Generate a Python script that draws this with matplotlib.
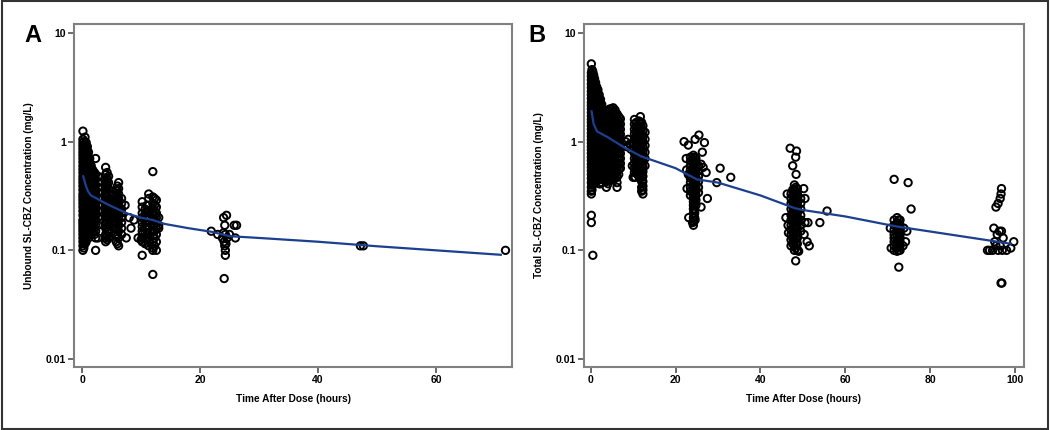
import matplotlib.pyplot as plt
from matplotlib.patches import Rectangle
from matplotlib.ticker import FixedLocator, NullLocator

plt.rcParams["font.family"] = ["Liberation Sans", "DejaVu Sans"]

# Panel A: unbound SL-CBZ, columns of (time, concentrations)
unbound_columns = [
    (0.15, [1.25, 1.05, 0.98, 0.92, 0.86, 0.8, 0.75, 0.7, 0.65, 0.6, 0.56, 0.52, 0.48, 0.45, 0.42,
            0.39, 0.36, 0.33, 0.31, 0.29, 0.27, 0.25, 0.23, 0.21, 0.19, 0.18, 0.17, 0.16, 0.15,
            0.14, 0.13, 0.12, 0.11, 0.1]),
    (0.3, [1.0, 0.93, 0.87, 0.82, 0.77, 0.72, 0.67, 0.62, 0.58, 0.54, 0.5, 0.465, 0.435, 0.405,
           0.375, 0.345, 0.32, 0.3, 0.28, 0.26, 0.24, 0.22, 0.2, 0.185, 0.175, 0.165, 0.155, 0.145,
           0.135, 0.125, 0.115, 0.105]),
    (0.5, [1.1, 0.95, 0.88, 0.8, 0.73, 0.67, 0.61, 0.56, 0.51, 0.47, 0.43, 0.4, 0.37, 0.34, 0.31,
           0.28, 0.26, 0.24, 0.22, 0.2, 0.185, 0.17, 0.155, 0.14, 0.13, 0.115]),
    (0.7, [0.98, 0.9, 0.84, 0.77, 0.7, 0.64, 0.59, 0.54, 0.49, 0.45, 0.415, 0.385, 0.355, 0.325,
           0.295, 0.27, 0.25, 0.23, 0.21, 0.19, 0.175, 0.16, 0.145, 0.13, 0.12]),
    (0.9, [0.9, 0.82, 0.75, 0.68, 0.62, 0.57, 0.52, 0.48, 0.44, 0.4, 0.37, 0.34, 0.31, 0.28, 0.26,
           0.24, 0.22, 0.2, 0.18, 0.165, 0.15, 0.135]),
    (1.1, [0.8, 0.72, 0.65, 0.59, 0.54, 0.5, 0.46, 0.42, 0.39, 0.36, 0.33, 0.3, 0.275, 0.255, 0.235,
           0.215, 0.195, 0.175, 0.16, 0.145, 0.13]),
    (1.3, [0.7, 0.62, 0.56, 0.5, 0.46, 0.42, 0.38, 0.35, 0.32, 0.29, 0.27, 0.25, 0.23, 0.21, 0.19,
           0.17, 0.155, 0.14]),
    (1.55, [0.6, 0.53, 0.48, 0.44, 0.4, 0.36, 0.33, 0.3, 0.28, 0.26, 0.24, 0.22, 0.2, 0.18, 0.165,
            0.15]),
    (1.8, [0.55, 0.5, 0.45, 0.41, 0.37, 0.34, 0.31, 0.28, 0.26, 0.24, 0.22, 0.2, 0.18, 0.16, 0.145]),
    (2.1, [0.52, 0.47, 0.42, 0.38, 0.345, 0.315, 0.285, 0.26, 0.24, 0.22, 0.2, 0.18, 0.16, 0.14]),
    (2.3, [0.7, 0.5, 0.45, 0.4, 0.36, 0.33, 0.3, 0.27, 0.25, 0.23, 0.21, 0.19, 0.17, 0.15, 0.13, 0.1]),
    (2.7, [0.48, 0.42, 0.38, 0.34, 0.3, 0.26, 0.23, 0.2, 0.17, 0.13]),
    (4.0, [0.58, 0.5, 0.45, 0.41, 0.37, 0.34, 0.31, 0.28, 0.26, 0.24, 0.22, 0.2, 0.18, 0.16, 0.14,
           0.13, 0.12]),
    (4.25, [0.52, 0.46, 0.42, 0.38, 0.345, 0.315, 0.29, 0.265, 0.245, 0.225, 0.205, 0.185, 0.165,
            0.15, 0.135, 0.125]),
    (4.5, [0.48, 0.42, 0.37, 0.33, 0.3, 0.27, 0.25, 0.23, 0.21, 0.19, 0.17, 0.15, 0.13]),
    (5.2, [0.32, 0.28, 0.25, 0.22, 0.2, 0.18, 0.16]),
    (5.8, [0.36, 0.32, 0.29, 0.26, 0.24, 0.22, 0.2, 0.18, 0.16, 0.14, 0.12]),
    (6.0, [0.39, 0.35, 0.31, 0.28, 0.255, 0.235, 0.215, 0.195, 0.175, 0.155, 0.135, 0.115]),
    (6.2, [0.42, 0.37, 0.33, 0.3, 0.27, 0.25, 0.23, 0.21, 0.19, 0.17, 0.15, 0.13, 0.11]),
    (6.7, [0.3, 0.27, 0.24, 0.22, 0.2, 0.18, 0.16, 0.14]),
    (10.2, [0.28, 0.25, 0.22, 0.2, 0.18, 0.165, 0.15, 0.14, 0.13, 0.12, 0.09]),
    (10.7, [0.24, 0.22, 0.2, 0.18, 0.16, 0.145, 0.13, 0.115]),
    (11.0, [0.26, 0.23, 0.21, 0.19, 0.17, 0.155, 0.14, 0.125]),
    (11.3, [0.33, 0.3, 0.26, 0.23, 0.2, 0.18, 0.16, 0.14, 0.12, 0.11]),
    (12.0, [0.53, 0.31, 0.27, 0.24, 0.21, 0.19, 0.17, 0.15, 0.135, 0.12, 0.105, 0.1, 0.06]),
    (12.3, [0.3, 0.26, 0.23, 0.21, 0.19, 0.17, 0.15, 0.13, 0.11]),
    (12.6, [0.29, 0.25, 0.22, 0.2, 0.18, 0.16, 0.14, 0.12, 0.1]),
    (13.0, [0.2, 0.17, 0.16]),
]
unbound_extra_t = [7.3, 7.5, 8.0, 8.3, 8.8, 9.5, 10.0,
                   21.9, 23.0, 24.0, 24.5, 24.2, 23.8, 24.1, 24.2, 24.3, 24.3, 24.1, 24.3, 24.6,
                   25.8, 26.2, 26.0, 24.4, 24.0, 25.0, 47.2, 47.7, 71.8]
unbound_extra_c = [0.26, 0.13, 0.2, 0.16, 0.19, 0.13, 0.125,
                   0.15, 0.14, 0.2, 0.21, 0.17, 0.13, 0.12, 0.11, 0.1, 0.09, 0.055, 0.14, 0.13,
                   0.17, 0.17, 0.13, 0.115, 0.145, 0.14, 0.11, 0.11, 0.1]
unbound_pred_t = [0.2, 0.6, 1.0, 1.5, 2.5, 4, 6, 8, 10, 12, 14, 18, 22, 25, 30, 40, 50, 60, 71]
unbound_pred_c = [0.48, 0.4, 0.35, 0.32, 0.3, 0.27, 0.24, 0.215, 0.2, 0.19, 0.175, 0.16, 0.148,
                  0.135, 0.13, 0.12, 0.109, 0.1, 0.091]

# Panel B: total SL-CBZ
total_columns = [
    (0.15, [5.2, 4.3, 4.0, 3.7, 3.4, 3.15, 2.9, 2.7, 2.5, 2.3, 2.15, 2.0, 1.85, 1.72, 1.6, 1.5, 1.4,
            1.3, 1.2, 1.12, 1.04, 0.97, 0.9, 0.84, 0.78, 0.72, 0.67, 0.62, 0.58, 0.54, 0.5, 0.46,
            0.42, 0.38, 0.35, 0.33, 0.21, 0.18]),
    (0.3, [4.6, 4.15, 3.85, 3.55, 3.25, 3.0, 2.8, 2.6, 2.4, 2.22, 2.07, 1.92, 1.78, 1.66, 1.55, 1.45,
           1.35, 1.25, 1.16, 1.08, 1.0, 0.93, 0.87, 0.81, 0.75, 0.69, 0.64, 0.6, 0.56, 0.52, 0.48,
           0.44, 0.4, 0.36]),
    (0.5, [4.4, 4.0, 3.6, 3.3, 3.0, 2.75, 2.5, 2.3, 2.1, 1.95, 1.8, 1.65, 1.52, 1.4, 1.3, 1.2, 1.1,
           1.02, 0.94, 0.87, 0.8, 0.74, 0.68, 0.62, 0.57, 0.52, 0.48, 0.44, 0.4, 0.09]),
    (0.7, [4.1, 3.75, 3.4, 3.1, 2.85, 2.6, 2.4, 2.2, 2.02, 1.87, 1.72, 1.58, 1.46, 1.35, 1.25, 1.15,
           1.06, 0.98, 0.9, 0.83, 0.77, 0.71, 0.65, 0.6, 0.55, 0.5, 0.46, 0.42]),
    (0.9, [3.8, 3.4, 3.1, 2.8, 2.55, 2.3, 2.1, 1.92, 1.76, 1.62, 1.48, 1.36, 1.25, 1.15, 1.06, 0.97,
           0.89, 0.82, 0.75, 0.69, 0.63, 0.58, 0.53, 0.48, 0.44]),
    (1.15, [3.5, 3.2, 2.9, 2.65, 2.4, 2.2, 2.0, 1.84, 1.69, 1.55, 1.42, 1.3, 1.2, 1.1, 1.01, 0.93,
            0.85, 0.78, 0.72, 0.66, 0.6, 0.55, 0.5, 0.45]),
    (1.4, [3.2, 2.9, 2.6, 2.35, 2.15, 1.95, 1.78, 1.62, 1.48, 1.35, 1.24, 1.13, 1.04, 0.95, 0.87,
           0.8, 0.73, 0.67, 0.61, 0.56, 0.51, 0.46]),
    (1.7, [3.0, 2.7, 2.45, 2.25, 2.05, 1.87, 1.7, 1.55, 1.42, 1.3, 1.19, 1.09, 1.0, 0.91, 0.84, 0.77,
           0.7, 0.64, 0.58, 0.53, 0.48, 0.44]),
    (2.0, [2.7, 2.4, 2.2, 2.0, 1.82, 1.66, 1.52, 1.39, 1.27, 1.16, 1.06, 0.97, 0.89, 0.81, 0.74,
           0.68, 0.62, 0.56, 0.5, 0.45, 0.41]),
    (2.3, [2.45, 2.2, 2.0, 1.82, 1.66, 1.51, 1.38, 1.26, 1.15, 1.05, 0.96, 0.88, 0.8, 0.73, 0.67,
           0.61, 0.55, 0.5, 0.45, 0.41]),
    (2.6, [2.2, 2.0, 1.8, 1.63, 1.48, 1.35, 1.23, 1.12, 1.02, 0.93, 0.85, 0.77, 0.7, 0.64, 0.58,
           0.52, 0.47, 0.42]),
    (3.7, [1.9, 1.7, 1.55, 1.4, 1.27, 1.15, 1.05, 0.95, 0.86, 0.78, 0.71, 0.64, 0.58, 0.52, 0.47,
           0.43, 0.38]),
    (4.1, [1.95, 1.76, 1.6, 1.45, 1.32, 1.2, 1.1, 1.0, 0.9, 0.82, 0.75, 0.68, 0.62, 0.56, 0.5, 0.46,
           0.41]),
    (4.5, [2.0, 1.82, 1.65, 1.5, 1.37, 1.25, 1.14, 1.04, 0.95, 0.86, 0.78, 0.71, 0.64, 0.58, 0.53,
           0.48, 0.44]),
    (4.9, [2.0, 1.8, 1.63, 1.48, 1.35, 1.22, 1.11, 1.01, 0.92, 0.84, 0.76, 0.69, 0.63, 0.57, 0.52,
           0.47]),
    (5.3, [2.05, 1.85, 1.68, 1.53, 1.39, 1.26, 1.15, 1.05, 0.95, 0.87, 0.79, 0.72, 0.65, 0.59, 0.54,
           0.49, 0.45]),
    (5.75, [1.95, 1.76, 1.6, 1.45, 1.31, 1.19, 1.08, 0.98, 0.9, 0.82, 0.74, 0.67, 0.61, 0.55, 0.5,
            0.46]),
    (6.2, [1.8, 1.64, 1.49, 1.36, 1.24, 1.13, 1.03, 0.94, 0.85, 0.77, 0.7, 0.63, 0.57, 0.52, 0.47,
           0.42, 0.38]),
    (6.6, [1.7, 1.54, 1.4, 1.27, 1.15, 1.04, 0.94, 0.85, 0.77, 0.69, 0.62, 0.56, 0.5]),
    (7.0, [1.62, 1.45, 1.3, 1.17, 1.05, 0.95, 0.86, 0.78, 0.7, 0.63, 0.57]),
    (10.3, [1.6, 1.45, 1.3, 1.18, 1.06, 0.95, 0.86, 0.78, 0.7, 0.63, 0.57, 0.52, 0.47]),
    (10.7, [1.5, 1.36, 1.23, 1.11, 1.0, 0.9, 0.81, 0.73, 0.66, 0.59, 0.53]),
    (11.0, [1.3, 1.15, 1.04, 0.93, 0.84, 0.76, 0.69, 0.62, 0.56, 0.5]),
    (11.35, [1.55, 1.4, 1.26, 1.13, 1.02, 0.92, 0.83, 0.74, 0.66, 0.59, 0.53, 0.48]),
    (11.7, [1.7, 1.5, 1.35, 1.2, 1.08, 0.97, 0.87, 0.78, 0.7, 0.63, 0.57, 0.51, 0.46]),
    (12.0, [1.5, 1.33, 1.18, 1.05, 0.94, 0.84, 0.75, 0.67, 0.6, 0.54, 0.48, 0.43, 0.38, 0.35]),
    (12.3, [1.4, 1.25, 1.12, 1.0, 0.9, 0.81, 0.73, 0.66, 0.59, 0.53, 0.48, 0.43, 0.39, 0.36, 0.33]),
    (12.8, [1.22, 1.05, 0.92, 0.8, 0.7, 0.6]),
    (23.5, [0.72, 0.66, 0.6, 0.55, 0.5, 0.46, 0.42, 0.38, 0.35, 0.32]),
    (24.2, [0.75, 0.68, 0.62, 0.57, 0.52, 0.48, 0.44, 0.4, 0.37, 0.34, 0.31, 0.28, 0.26, 0.24, 0.22,
            0.2, 0.185, 0.17]),
    (24.5, [0.72, 0.65, 0.59, 0.54, 0.49, 0.45, 0.41, 0.37, 0.33, 0.3, 0.27, 0.24, 0.22, 0.2]),
    (24.8, [0.7, 0.63, 0.57, 0.52, 0.47, 0.43, 0.39, 0.35, 0.32, 0.29, 0.26]),
    (25.4, [0.6, 0.54, 0.48, 0.43, 0.38, 0.34]),
    (47.2, [0.33, 0.3, 0.27, 0.24, 0.21, 0.19, 0.17, 0.155, 0.14, 0.125, 0.11]),
    (47.6, [0.36, 0.32, 0.28, 0.25, 0.22, 0.2, 0.18, 0.16, 0.145, 0.13, 0.115]),
    (48.0, [0.4, 0.36, 0.32, 0.29, 0.26, 0.235, 0.21, 0.19, 0.17, 0.155, 0.14, 0.125, 0.11, 0.1]),
    (48.3, [0.38, 0.34, 0.3, 0.27, 0.24, 0.22, 0.2, 0.18, 0.16, 0.145, 0.13, 0.115, 0.105]),
    (48.7, [0.37, 0.33, 0.3, 0.27, 0.24, 0.22, 0.2, 0.18, 0.16, 0.145, 0.13, 0.115, 0.1]),
    (49.5, [0.3, 0.27, 0.24, 0.21, 0.19, 0.17, 0.15]),
    (71.5, [0.19, 0.17, 0.155, 0.14, 0.13, 0.12, 0.11, 0.1]),
    (72.2, [0.2, 0.18, 0.165, 0.15, 0.135, 0.125, 0.115, 0.105, 0.098]),
    (72.55, [0.19, 0.175, 0.16, 0.145, 0.13, 0.12, 0.11, 0.1]),
    (72.9, [0.19, 0.17, 0.155, 0.14, 0.13, 0.12, 0.11, 0.1]),
]
total_extra_t = [8.2, 8.8, 9.2, 8.5, 9.5, 9.8, 10.0, 10.5,
                 22.0, 23.0, 24.6, 25.5, 26.8, 26.3, 22.5, 26.5, 27.2, 26.0, 22.7, 23.1, 24.0,
                 24.6, 26.0, 27.5, 29.7, 30.5, 33.0, 22.6, 23.0,
                 47.0, 48.5, 48.3, 47.6, 48.4, 46.3, 50.2, 50.5, 46.0, 46.5, 50.5, 51.2, 51.0,
                 51.5, 48.8, 49.0, 48.3, 54.0, 55.7, 46.6, 50.3,
                 71.5, 74.8, 75.5, 70.6, 70.8, 73.8, 74.2, 74.5, 72.6, 73.6,
                 93.5, 94.0, 95.0, 95.5, 96.0, 96.5, 96.7, 96.8, 95.8, 96.3, 96.8, 97.2, 96.5,
                 95.5, 96.0, 97.0, 98.0, 99.0, 99.7, 96.7, 96.9, 94.7, 95.2]
total_extra_c = [1.0, 1.05, 0.95, 0.9, 0.85, 0.6, 0.47, 0.47,
                 1.0, 0.93, 1.05, 1.15, 0.98, 0.8, 0.7, 0.58, 0.52, 0.62, 0.37, 0.2, 0.18,
                 0.19, 0.25, 0.3, 0.42, 0.57, 0.47, 0.55, 0.5,
                 0.87, 0.82, 0.72, 0.6, 0.5, 0.33, 0.37, 0.3, 0.2, 0.17, 0.18, 0.18, 0.12,
                 0.11, 0.1, 0.098, 0.08, 0.18, 0.23, 0.145, 0.14,
                 0.45, 0.42, 0.24, 0.16, 0.105, 0.16, 0.12, 0.15, 0.07, 0.11,
                 0.1, 0.1, 0.16, 0.25, 0.27, 0.3, 0.33, 0.37, 0.14, 0.15, 0.15, 0.13, 0.11,
                 0.11, 0.1, 0.1, 0.1, 0.105, 0.12, 0.05, 0.05, 0.1, 0.12]
total_pred_t = [0.2, 0.7, 1.5, 4, 8, 12, 20, 25, 30, 40, 48, 50, 60, 72, 80, 90, 99]
total_pred_c = [1.9, 1.45, 1.24, 1.1, 0.88, 0.73, 0.57, 0.45, 0.42, 0.32, 0.245, 0.235, 0.205,
                0.166, 0.149, 0.13, 0.115]

y_ticks = [0.01, 0.1, 1, 10]
y_tick_labels = ["0.01", "0.1", "1", "10"]

frame_col = "#808080"
line_col = "#1c3f8f"


def expand(columns, extra_t, extra_c):
    ts, cs = [], []
    for t, vals in columns:
        ts += [t] * len(vals)
        cs += vals
    return ts + extra_t, cs + extra_c


def draw_panel(ax, columns, extra_t, extra_c, pred_t, pred_c, xlim, xticks, ylabel):
    ts, cs = expand(columns, extra_t, extra_c)
    ax.scatter(ts, cs, s=28, facecolors="none", edgecolors="black", linewidths=1.4, zorder=2)
    ax.plot(pred_t, pred_c, color=line_col, lw=1.6, zorder=3)
    ax.set_yscale("log")
    ax.set_ylim(0.00844, 12.1)
    ax.set_xlim(*xlim)
    ax.yaxis.set_major_locator(FixedLocator(y_ticks))
    ax.yaxis.set_minor_locator(NullLocator())
    ax.set_yticklabels(y_tick_labels)
    ax.set_xticks(xticks)
    ax.set_xticklabels([str(x) for x in xticks])
    for sp in ax.spines.values():
        sp.set_color(frame_col)
        sp.set_linewidth(1.5)
    ax.tick_params(axis="both", direction="out", length=4, width=1.2, color="#505050",
                   labelsize=7.5, pad=2)
    for lbl in ax.get_xticklabels() + ax.get_yticklabels():
        lbl.set_fontweight("bold")
    ax.set_xlabel("Time After Dose (hours)", fontsize=7.3, fontweight="bold", labelpad=6)
    ax.set_ylabel(ylabel, fontsize=7.2, fontweight="bold", labelpad=8)


fig = plt.figure(figsize=(10.5, 4.3), dpi=100)
ax_a = fig.add_axes([0.0705, 0.1465, 0.4171, 0.7977])
ax_b = fig.add_axes([0.5562, 0.1465, 0.4190, 0.7977])

draw_panel(ax_a, unbound_columns, unbound_extra_t, unbound_extra_c,
           unbound_pred_t, unbound_pred_c, (-1.36, 72.9), [0, 20, 40, 60],
           "Unbound SL-CBZ Concentration (mg/L)")
draw_panel(ax_b, total_columns, total_extra_t, total_extra_c,
           total_pred_t, total_pred_c, (-1.58, 102.1), [0, 20, 40, 60, 80, 100],
           "Total SL-CBZ Concentration (mg/L)")

fig.text(33 / 1050, 1 - 36 / 430, "A", fontsize=17, fontweight="bold", ha="center", va="center")
fig.text(537 / 1050, 1 - 36 / 430, "B", fontsize=17, fontweight="bold", ha="center", va="center")

fig.patches.append(Rectangle((0.002, 0.003), 0.996, 0.994, transform=fig.transFigure,
                             fill=False, edgecolor="#333333", lw=1.5))

fig.savefig("out.png", dpi=100)
plt.close(fig)
